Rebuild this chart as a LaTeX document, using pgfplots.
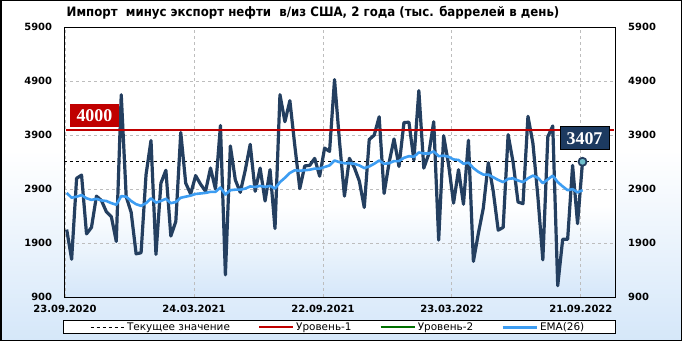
\documentclass[border=0pt]{standalone}
\usepackage{pgfplots}
\pgfplotsset{compat=1.18}
\usepackage{fontspec}
\setmainfont{DejaVu Sans}
\newfontfamily\titlefont{DejaVu Sans}[FakeStretch=0.91]
\newfontfamily\numfont{Liberation Serif}
\definecolor{navy}{HTML}{243F60}
\definecolor{ema}{HTML}{3D9DF2}
\definecolor{lvlred}{HTML}{C00000}
\definecolor{lvlgreen}{HTML}{007000}
\definecolor{bgblue}{HTML}{D5E7F9}
\definecolor{gridgray}{HTML}{BDBDBD}
\definecolor{boxnavy}{HTML}{1C3A60}
\definecolor{markfill}{HTML}{6FBFCB}
\pgfdeclareverticalshading{outerbg}{100bp}{color(0bp)=(bgblue); color(25bp)=(bgblue); color(53bp)=(white); color(100bp)=(white)}
\pgfdeclareverticalshading{plotbg}{100bp}{color(0bp)=(bgblue); color(25bp)=(bgblue); color(42bp)=(white); color(100bp)=(white)}

\pgfplotstableread{
i v
0 2150
1 1600
2 3100
3 3160
4 2070
5 2190
6 2770
7 2690
8 2480
9 2390
10 1930
11 4650
12 2760
13 2470
14 1700
15 1720
16 3170
17 3800
18 1690
19 3010
20 3250
21 2030
22 2300
23 3950
24 3010
25 2810
26 3150
27 2990
28 2860
29 3290
30 2900
31 4080
32 1310
33 3700
34 3070
35 2840
36 3250
37 3730
38 2860
39 3290
40 2680
41 3260
42 2170
43 4650
44 4150
45 4540
46 3700
47 2910
48 3330
49 3340
50 3470
51 3140
52 3660
53 3600
54 4930
55 3790
56 2770
57 3470
58 3300
59 3050
60 2560
61 3820
62 3900
63 4240
64 2820
65 3390
66 3830
67 3320
68 4135
69 4140
70 3440
71 4725
72 3290
73 3550
74 4150
75 1955
76 3890
77 3350
78 2640
79 3260
80 2620
81 3806
82 1560
83 2080
84 2550
85 3390
86 2860
87 2140
88 2190
89 3910
90 3400
91 2660
92 2630
93 4250
94 3750
95 2760
96 1590
97 3870
98 4070
99 1110
100 1970
101 1970
102 3340
103 2260
104 3407
}\mainseries

\pgfplotstableread{
i v
0 2830
1 2740
2 2760
3 2790
4 2730
5 2700
6 2720
7 2690
8 2680
9 2640
10 2610
11 2770
12 2760
13 2680
14 2620
15 2590
16 2640
17 2730
18 2650
19 2680
20 2720
21 2640
22 2660
23 2740
24 2760
25 2780
26 2810
27 2820
28 2830
29 2850
30 2850
31 2930
32 2800
33 2880
34 2890
35 2890
36 2910
37 2950
38 2940
39 2960
40 2940
41 2960
42 2910
43 3030
44 3110
45 3200
46 3250
47 3240
48 3250
49 3260
50 3280
51 3280
52 3310
53 3340
54 3430
55 3400
56 3380
57 3380
58 3370
59 3340
60 3290
61 3320
62 3370
63 3430
64 3370
65 3380
66 3420
67 3420
68 3480
69 3510
70 3500
71 3580
72 3560
73 3560
74 3600
75 3510
76 3520
77 3500
78 3450
79 3440
80 3370
81 3390
82 3290
83 3220
84 3170
85 3170
86 3120
87 3070
88 3030
89 3090
90 3100
91 3060
92 3030
93 3100
94 3150
95 3110
96 3010
97 3080
98 3150
99 3030
100 2950
101 2880
102 2900
103 2840
104 2880
}\emaseries

\begin{document}
\begin{tikzpicture}
\shade[shading=outerbg] (0bp,0bp) rectangle (682bp,341bp);
\draw[black, line width=1.5bp] (0.75bp,0.75bp) rectangle (681.25bp,340.25bp);
\node[font=\titlefont\bfseries\fontsize{13}{15}\selectfont, anchor=center, inner sep=0pt] at (313bp,328bp) {Импорт\ \ минус экспорт нефти\ \ в/из США, 2 года (тыс. баррелей в день)};
\fill[white] (63.3bp,7bp) rectangle (615.7bp,20.3bp);
\draw[black, line width=1bp] (63.3bp,7bp) rectangle (615.7bp,20.3bp);

\begin{axis}[
  at={(64.3bp,44bp)}, anchor=south west,
  scale only axis, width=551.2bp, height=269.7bp,
  xmin=-0.48, xmax=110.65, ymin=900, ymax=5900,
  axis background/.style={shading=plotbg},
  xtick={-0.34,25.66,51.66,77.66,103.66},
  xticklabels={23.09.2020,24.03.2021,22.09.2021,23.03.2022,21.09.2022},
  ytick={900,1900,2900,3900,4900,5900},
  yticklabels={900,1900,2900,3900,4900,5900},
  grid=major,
  major grid style={gridgray, dash pattern=on 3bp off 3bp, line width=0.8bp},
  major tick length=0pt,
  axis line style={black, line width=1bp},
  ticklabel style={font=\bfseries\fontsize{10}{12}\selectfont, inner sep=0pt},
  yticklabel style={anchor=east, xshift=-12bp},
  xticklabel style={anchor=north, yshift=-8bp},
  legend columns=4,
  legend style={draw=none, fill=none, at={(0.497,-0.1124)}, anchor=center,
    font=\fontsize{10.5}{12}\selectfont, inner sep=0pt,
    /tikz/every even column/.append style={column sep=26bp}},
  legend image code/.code={\draw[#1] (0bp,0bp) -- (34bp,0bp);},
]
\addlegendimage{black, dash pattern=on 3bp off 3bp, line width=0.9bp}
\addlegendentry{Текущее значение}
\addlegendimage{lvlred, line width=2.2bp}
\addlegendentry{Уровень-1}
\addlegendimage{lvlgreen, line width=2.2bp}
\addlegendentry{Уровень-2}
\addlegendimage{ema, line width=2.8bp}
\addlegendentry{EMA(26)}

\addplot[forget plot, black, dash pattern=on 3bp off 3bp, line width=0.9bp] coordinates {(-0.48,3407) (110.3,3407)};
\addplot[forget plot, navy, line width=3.2bp, line join=round] table[x=i,y=v] {\mainseries};
\addplot[forget plot, lvlred, line width=2.2bp] coordinates {(-0.15,4000) (110.3,4000)};
\addplot[forget plot, ema, line width=2.6bp, line join=round] table[x=i,y=v] {\emaseries};
\addplot[forget plot, only marks, mark=*, mark size=4bp, mark options={fill=markfill, draw=navy, line width=1.8bp}] coordinates {(104,3407)};
\node[fill=boxnavy, draw=black, line width=0.8bp, text=white, font=\numfont\bfseries\fontsize{18}{18}\selectfont, minimum width=49bp, minimum height=23bp, inner sep=0pt] at (axis cs:104.4,3841) {3407};
\node[fill=lvlred, text=white, font=\numfont\bfseries\fontsize{18}{18}\selectfont, minimum width=49bp, minimum height=23bp, inner sep=0pt] at (axis cs:5.6,4267) {4000};
\end{axis}

\begin{axis}[
  at={(64.3bp,44bp)}, anchor=south west,
  scale only axis, width=551.2bp, height=269.7bp,
  xmin=-0.48, xmax=110.65, ymin=900, ymax=5900,
  axis x line=none, axis y line*=right, y axis line style={draw=none},
  ytick={900,1900,2900,3900,4900,5900},
  yticklabels={900,1900,2900,3900,4900,5900},
  major tick length=0pt,
  yticklabel style={font=\bfseries\fontsize{10}{12}\selectfont, inner sep=0pt, anchor=west, xshift=12.5bp},
]
\addplot[draw=none, forget plot] coordinates {(0,900)};
\end{axis}
\end{tikzpicture}
\end{document}
